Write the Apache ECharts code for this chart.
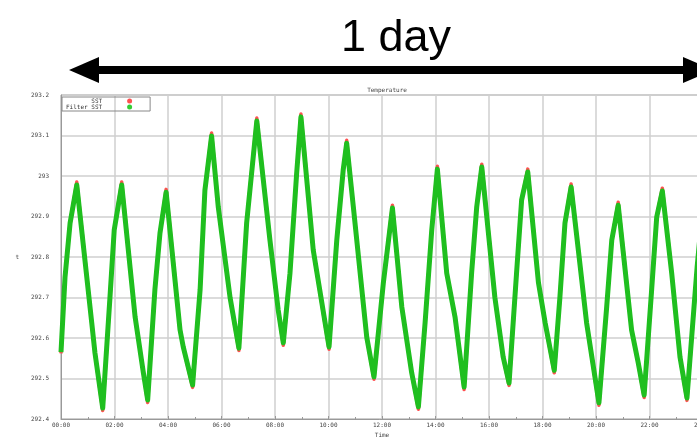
<!DOCTYPE html>
<html>
<head>
<meta charset="utf-8">
<script src="https://cdn.jsdelivr.net/npm/echarts@6/dist/echarts.min.js"></script>
<style>
  html, body { margin: 0; padding: 0; background: #fff; overflow: hidden; }
  #chart { width: 697px; height: 437px; }
</style>
</head>
<body>
<div id="chart"></div>
<script>
// time of day in hours
var timeH = [0, 0.15, 0.34, 0.59, 1.15, 1.27, 1.56, 1.83, 1.99, 2.27, 2.77, 3.08, 3.24, 3.51, 3.70, 3.93,
  4.45, 4.57, 4.92, 5.20, 5.38, 5.63, 5.88, 6.32, 6.65, 6.94, 7.32, 7.81, 8.12, 8.31, 8.56, 8.81, 8.97,
  9.43, 10.02, 10.31, 10.55, 10.68, 10.93, 11.43, 11.70, 12.05, 12.39, 12.74, 13.11, 13.36, 13.61, 13.86,
  14.07, 14.42, 14.73, 15.07, 15.35, 15.54, 15.73, 16.22, 16.53, 16.75, 17.03, 17.22, 17.45, 17.85, 18.10,
  18.44, 18.65, 18.84, 19.07, 19.34, 19.65, 20.11, 20.40, 20.59, 20.83, 21.33, 21.58, 21.80, 22.08, 22.27,
  22.48, 22.83, 23.14, 23.40, 23.78, 24.0];

// filtered SST (green band)
var filterSst = [292.565, 292.75, 292.884, 292.978, 292.637, 292.563, 292.427, 292.70, 292.867, 292.978,
  292.652, 292.514, 292.447, 292.719, 292.859, 292.96, 292.62, 292.578, 292.484, 292.719, 292.965, 293.099,
  292.923, 292.70, 292.575, 292.884, 293.136, 292.842, 292.669, 292.588, 292.76, 293.007, 293.146, 292.817,
  292.578, 292.842, 293.015, 293.081, 292.923, 292.602, 292.504, 292.736, 292.921, 292.677, 292.514, 292.43,
  292.637, 292.867, 293.017, 292.76, 292.652, 292.479, 292.76, 292.923, 293.022, 292.70, 292.553, 292.489,
  292.76, 292.941, 293.01, 292.736, 292.637, 292.52, 292.70, 292.884, 292.973, 292.817, 292.637, 292.44,
  292.677, 292.842, 292.928, 292.62, 292.538, 292.459, 292.719, 292.899, 292.963, 292.76, 292.553, 292.452,
  292.775, 292.93];

// raw SST (red points, only showing at the tips)
var sst = [292.562, 292.75, 292.884, 292.985, 292.637, 292.563, 292.421, 292.70, 292.867, 292.985,
  292.652, 292.514, 292.441, 292.719, 292.859, 292.967, 292.62, 292.578, 292.478, 292.719, 292.965, 293.106,
  292.923, 292.70, 292.569, 292.884, 293.143, 292.842, 292.669, 292.582, 292.76, 293.007, 293.153, 292.817,
  292.572, 292.842, 293.015, 293.088, 292.923, 292.602, 292.498, 292.736, 292.928, 292.677, 292.514, 292.424,
  292.637, 292.867, 293.024, 292.76, 292.652, 292.473, 292.76, 292.923, 293.029, 292.70, 292.553, 292.483,
  292.76, 292.941, 293.017, 292.736, 292.637, 292.514, 292.70, 292.884, 292.98, 292.817, 292.637, 292.434,
  292.677, 292.842, 292.935, 292.62, 292.538, 292.453, 292.719, 292.899, 292.97, 292.76, 292.553, 292.446,
  292.775, 292.93];

var yTicks = [292.4, 292.5, 292.6, 292.7, 292.8, 292.9, 293, 293.1, 293.2];

function pairs(xs, ys) {
  var arr = [];
  for (var i = 0; i < xs.length; i++) {
    arr.push([xs[i], ys[i]]);
  }
  return arr;
}

function hhmm(h) {
  var s = String(Math.round(h));
  return (s.length < 2 ? '0' + s : s) + ':00';
}

var chart = echarts.init(document.getElementById('chart'), null, { renderer: 'canvas' });

var monoFont = 'DejaVu Sans Mono';

var option = {
  animation: false,
  backgroundColor: '#fff',
  title: {
    text: 'Temperature',
    left: 382,
    textAlign: 'center',
    top: 82,
    textStyle: { fontSize: 6, fontWeight: 'normal', color: '#444', fontFamily: monoFont }
  },
  legend: {
    orient: 'vertical',
    left: 62,
    top: 97,
    align: 'right',
    padding: [1, 18, 1, 4],
    itemGap: 0,
    itemWidth: 5,
    itemHeight: 5,
    borderColor: '#888',
    borderWidth: 1,
    borderRadius: 0,
    data: [
      { name: 'SST', icon: 'circle', itemStyle: { color: '#ff5050' } },
      { name: 'Filter SST', icon: 'circle', itemStyle: { color: '#33cc33' } }
    ],
    textStyle: { fontSize: 6, color: '#333', fontFamily: monoFont, width: 46, align: 'right', padding: [0, 20, 0, 0] }
  },
  grid: {
    left: 61,
    top: 95,
    width: 642,
    height: 324,
    outerBoundsMode: 'none',
    show: true,
    borderColor: '#999',
    borderWidth: 1
  },
  xAxis: {
    type: 'value',
    min: 0,
    max: 24,
    interval: 2,
    name: 'Time',
    nameLocation: 'middle',
    nameGap: 13,
    nameTextStyle: { fontSize: 6, color: '#444', fontFamily: monoFont },
    axisLine: { show: true, lineStyle: { color: '#999' } },
    axisTick: { show: true, inside: true, length: 3, lineStyle: { color: '#999' } },
    minorTick: { show: true, splitNumber: 2, length: 2, lineStyle: { color: '#999' } },
    axisLabel: { fontSize: 6, color: '#444', fontFamily: monoFont, margin: 3, formatter: hhmm },
    splitLine: { show: true, lineStyle: { color: '#cfcfcf', width: 1.5 } }
  },
  yAxis: {
    type: 'value',
    min: 292.4,
    max: 293.2,
    interval: 0.1,
    name: 't',
    nameLocation: 'middle',
    nameGap: 42,
    nameRotate: 0,
    nameTextStyle: { fontSize: 6, color: '#444', fontFamily: monoFont },
    axisLine: { show: true, lineStyle: { color: '#999' } },
    axisTick: { show: false },
    axisLabel: {
      fontSize: 6, color: '#444', fontFamily: monoFont, margin: 12,
      formatter: function (v) {
        var best = yTicks[0];
        for (var i = 0; i < yTicks.length; i++) {
          if (Math.abs(yTicks[i] - v) < Math.abs(best - v)) best = yTicks[i];
        }
        return String(best);
      }
    },
    splitLine: { show: true, lineStyle: { color: '#cfcfcf', width: 1.5 } }
  },
  series: [{
    name: 'SST',
    type: 'line',
    data: pairs(timeH, sst),
    smooth: false,
    showSymbol: false,
    z: 2,
    lineStyle: { color: '#ff5050', width: 3.5, join: 'round' },
    itemStyle: { color: '#ff5050' }
  }, {
    name: 'Filter SST',
    type: 'line',
    data: pairs(timeH, filterSst),
    smooth: false,
    showSymbol: false,
    z: 3,
    lineStyle: { color: '#1fbf1f', width: 5, join: 'round' },
    itemStyle: { color: '#1fbf1f' }
  }],
  graphic: [{
    type: 'text',
    style: {
      text: '1 day',
      x: 396,
      y: 39,
      align: 'center',
      verticalAlign: 'middle',
      font: '45px "Liberation Sans", Arial, sans-serif',
      fill: '#000'
    }
  }, {
    type: 'rect',
    shape: { x: 95, y: 66, width: 595, height: 8 },
    style: { fill: '#000' }
  }, {
    type: 'polygon',
    shape: { points: [[69, 70], [99, 57], [99, 83]] },
    style: { fill: '#000' }
  }, {
    type: 'polygon',
    shape: { points: [[713, 70], [683, 57], [683, 83]] },
    style: { fill: '#000' }
  }]
};

chart.setOption(option);
</script>
</body>
</html>
